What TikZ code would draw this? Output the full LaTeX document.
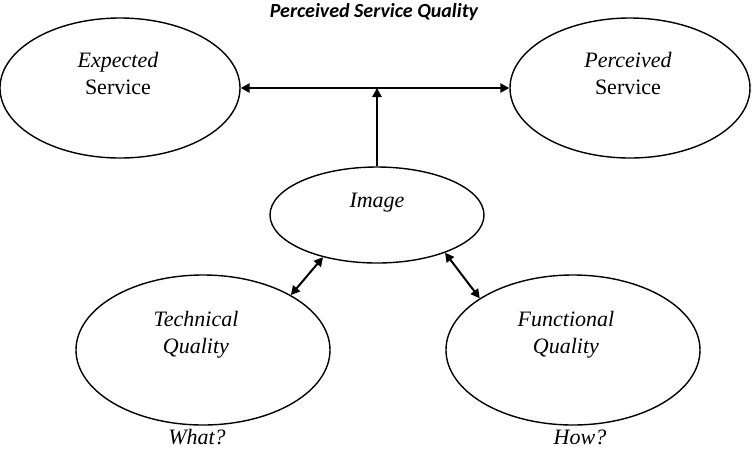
\documentclass[tikz,border=0pt]{standalone}
\usepackage{fontspec}
\setmainfont{Liberation Serif}
\newfontfamily\titlefont{Carlito}
\usepackage{tikz}
\usetikzlibrary{shapes,arrows.meta,positioning,calc}

\begin{document}
\begin{tikzpicture}[
    x=0.5pt, y=-0.5pt,
    el/.style={ellipse, draw=black, line width=0.7pt, inner sep=0pt},
    txt/.style={align=center, font=\fontsize{11}{13.5}\selectfont, inner sep=0pt},
    arr/.style={-{Triangle[length=4.5pt, width=4.6pt]}, line width=1pt},
    darr/.style={{Triangle[length=4.5pt, width=4.6pt]}-{Triangle[length=4.5pt, width=4.6pt]}, line width=1pt}
]
    \useasboundingbox (0,0) rectangle (752,452);

    \node [font=\titlefont\bfseries\itshape\fontsize{10}{12}\selectfont] (t) at (374,12) {Perceived Service Quality};

    \node [el, minimum width=120pt, minimum height=70pt] (n1) at (120,88) {};
    \node [el, minimum width=120pt, minimum height=70pt] (n2) at (630,88) {};
    \node [el, minimum width=107pt, minimum height=48pt] (n3) at (377,215) {};
    \node [el, minimum width=127pt, minimum height=75pt] (n4) at (203,350) {};
    \node [el, minimum width=127pt, minimum height=75pt] (n5) at (573,350) {};

    \node [txt] (l1) at (118,73) {\textit{Expected}\\Service};
    \node [txt] (l2) at (628,73) {\textit{Perceived}\\Service};
    \node [txt] (l3) at (377,203) {\textit{Image}};
    \node [txt] (l4) at (196,335) {\textit{Technical}\\\textit{Quality}};
    \node [txt] (l5) at (566,335) {\textit{Functional}\\\textit{Quality}};
    \node [txt] (w1) at (197,437) {\textit{What?}};
    \node [txt] (w2) at (580,437) {\textit{How?}};

    \coordinate (c1) at (n3.north |- n1.east);

    \draw [darr] (n1.east) -- (n2.west);
    \draw [arr] (n3.north) -- (c1);
    \draw [darr] (n3.218) -- (n4.32);
    \draw [darr] (n3.-29) -- (n5.151);
\end{tikzpicture}
\end{document}
